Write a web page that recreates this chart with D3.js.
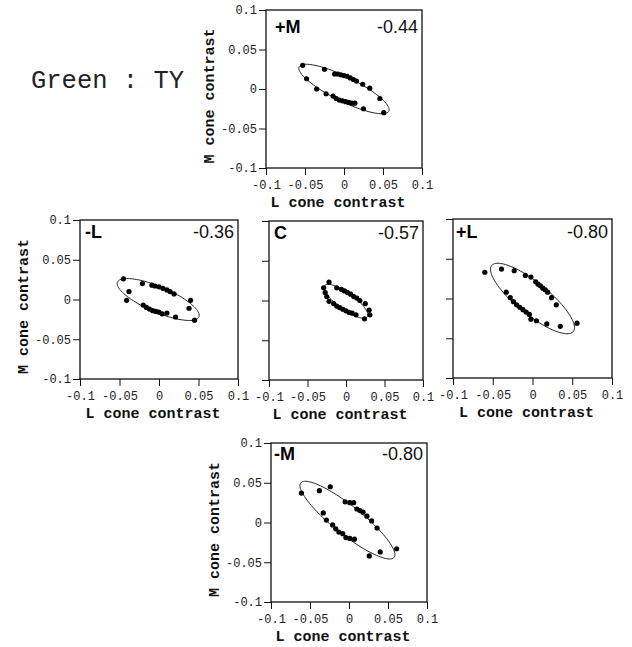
<!DOCTYPE html>
<html>
<head>
<meta charset="utf-8">
<script src="https://cdn.jsdelivr.net/npm/d3@7"></script>
<style>
  html, body { margin: 0; padding: 0; background: #fff; }
  svg { display: block; }
  .tick text { font-family: "Liberation Mono", "DejaVu Sans Mono", monospace; font-size: 12px; fill: #222; }
  .tick line { stroke: #111; stroke-width: 1; }
  .axis-title { font-family: "Liberation Mono", monospace; font-size: 15px; font-weight: bold; fill: #111; }
  .cond { font-family: "Liberation Sans", Arial, sans-serif; font-size: 18px; font-weight: bold; fill: #000; }
  .corr { font-family: "Liberation Sans", Arial, sans-serif; font-size: 18px; fill: #111; }
</style>
</head>
<body>
<svg id="chart" width="632" height="647"></svg>
<script>
// Observer / condition heading
const heading = "Green : TY";

// Adaptation conditions and the correlation reported for each
const conditions = ["+M", "-L", "C", "+L", "-M"];
const correlations = ["-0.44", "-0.36", "-0.57", "-0.80", "-0.80"];

// Shared axis ticks
const tickValues = [-0.1, -0.05, 0, 0.05, 0.1];
const tickLabels = ["-0.1", "-0.05", "0", "0.05", "0.1"];

// Threshold points (L cone contrast, M cone contrast) per condition
const plusM_L = [-0.053, -0.025, -0.048, -0.035, -0.023, -0.014, -0.010, -0.006, -0.002, 0.002, 0.006, 0.010, 0.014, 0.025, 0.051, 0.046, 0.033, 0.024, 0.016, 0.012, 0.008, 0.004, 0.000, -0.004, -0.008, -0.012];
const plusM_M = [0.030, 0.025, 0.013, 0.000, -0.006, -0.009, -0.012, -0.014, -0.015, -0.016, -0.017, -0.018, -0.018, -0.025, -0.030, -0.012, 0.001, 0.006, 0.010, 0.012, 0.014, 0.016, 0.017, 0.018, 0.019, 0.019];

const minusL_L = [-0.045, -0.038, -0.041, -0.021, -0.009, -0.005, 0.000, 0.005, 0.010, 0.014, 0.019, 0.040, 0.038, 0.045, -0.020, -0.016, -0.012, -0.008, -0.004, 0.000, 0.004, 0.010, 0.021];
const minusL_M = [0.026, 0.010, -0.001, 0.020, 0.018, 0.017, 0.016, 0.014, 0.012, 0.010, 0.007, -0.001, -0.011, -0.026, -0.007, -0.010, -0.012, -0.014, -0.015, -0.016, -0.018, -0.017, -0.022];

const center_L = [-0.022, -0.029, -0.027, -0.025, -0.022, -0.016, -0.012, -0.008, -0.004, 0.000, 0.004, 0.008, 0.013, 0.024, 0.031, 0.030, 0.025, 0.018, 0.014, 0.010, 0.006, 0.002, -0.002, -0.006, -0.012];
const center_M = [0.023, 0.016, 0.010, 0.005, -0.001, -0.004, -0.007, -0.009, -0.011, -0.013, -0.015, -0.016, -0.018, -0.023, -0.018, -0.012, -0.004, 0.000, 0.003, 0.005, 0.008, 0.010, 0.012, 0.014, 0.016];

const plusL_L = [-0.060, -0.039, -0.023, -0.009, -0.002, 0.004, 0.007, 0.010, 0.013, 0.016, 0.019, 0.024, 0.030, -0.033, -0.028, -0.024, -0.020, -0.016, -0.012, -0.008, -0.004, -0.002, 0.005, 0.018, 0.035, 0.056];
const plusL_M = [0.033, 0.037, 0.035, 0.029, 0.027, 0.021, 0.018, 0.016, 0.013, 0.011, 0.008, 0.001, -0.008, 0.008, 0.001, -0.004, -0.008, -0.011, -0.014, -0.017, -0.020, -0.026, -0.028, -0.032, -0.035, -0.031];

const minusM_L = [-0.061, -0.038, -0.024, -0.005, 0.001, 0.006, 0.010, 0.014, 0.018, 0.023, 0.029, 0.036, -0.033, -0.029, -0.021, -0.017, -0.013, -0.008, -0.004, 0.001, 0.007, 0.026, 0.040, 0.061];
const minusM_M = [0.037, 0.040, 0.045, 0.026, 0.025, 0.025, 0.017, 0.015, 0.013, 0.008, 0.002, -0.007, 0.012, 0.003, -0.003, -0.008, -0.012, -0.014, -0.019, -0.020, -0.021, -0.042, -0.037, -0.033];

// Fitted ellipses: [centre L, centre M, semi-major, semi-minor, tilt in degrees]
const plusM_fit  = [0.000, 0.000, 0.064, 0.0155, -26];
const minusL_fit = [-0.001, 0.000, 0.056, 0.016, -23];
const center_fit = [0.000, -0.001, 0.034, 0.0105, -35];
const plusL_fit  = [0.000, 0.000, 0.066, 0.020, -39];
const minusM_fit = [-0.002, 0.003, 0.076, 0.018, -38];

const seriesL = [plusM_L, minusL_L, center_L, plusL_L, minusM_L];
const seriesM = [plusM_M, minusL_M, center_M, plusL_M, minusM_M];
const fits = [plusM_fit, minusL_fit, center_fit, plusL_fit, minusM_fit];

// Panel frames (plot-area boxes, in pixels) and which ones carry y labels
const frames = [
  { x: 266, y: 10,  w: 156, h: 158, yText: true,  labelDx: 9, labelDy: 23 },
  { x: 80,  y: 220, w: 158, h: 159, yText: true,  labelDx: 5, labelDy: 17.5 },
  { x: 269, y: 221, w: 154, h: 159, yText: false, labelDx: 5, labelDy: 17.5 },
  { x: 453, y: 219, w: 159, h: 159, yText: false, labelDx: 3, labelDy: 19 },
  { x: 271, y: 443, w: 156, h: 159, yText: true,  labelDx: 3, labelDy: 17 }
];

const svg = d3.select("#chart");

svg.append("text")
  .attr("x", 31)
  .attr("y", 88)
  .style("font-family", "'Liberation Mono', monospace")
  .style("font-size", "25.5px")
  .style("fill", "#222")
  .text(heading);

frames.forEach((f, i) => {
  const x = d3.scaleLinear().domain([-0.1, 0.1]).range([f.x, f.x + f.w]);
  const y = d3.scaleLinear().domain([-0.1, 0.1]).range([f.y + f.h, f.y]);
  const g = svg.append("g");

  // x axis
  const xAxis = d3.axisBottom(x)
    .tickValues(tickValues)
    .tickFormat((d, k) => tickLabels[k])
    .tickSize(7).tickSizeOuter(0).tickPadding(5);
  const gx = g.append("g").attr("transform", `translate(0,${f.y + f.h})`).call(xAxis);
  gx.select(".domain").remove();

  // y axis
  const yAxis = d3.axisLeft(y)
    .tickValues(tickValues)
    .tickFormat((d, k) => f.yText ? tickLabels[k] : "")
    .tickSize(7).tickSizeOuter(0).tickPadding(2);
  const gy = g.append("g").attr("transform", `translate(${f.x},0)`).call(yAxis);
  gy.select(".domain").remove();

  // frame
  g.append("rect")
    .attr("x", f.x).attr("y", f.y)
    .attr("width", f.w).attr("height", f.h)
    .attr("fill", "none")
    .attr("stroke", "#111")
    .attr("stroke-width", 1.3);

  // axis titles
  g.append("text")
    .attr("class", "axis-title")
    .attr("x", f.x + f.w / 2 - 6)
    .attr("y", f.y + f.h + 39)
    .attr("text-anchor", "middle")
    .text("L cone contrast");

  if (f.yText) {
    g.append("text")
      .attr("class", "axis-title")
      .attr("transform", `translate(${f.x - 52},${f.y + f.h / 2 + 7}) rotate(-90)`)
      .attr("text-anchor", "middle")
      .text("M cone contrast");
  }

  // fitted ellipse
  const [cx, cy, a, b, deg] = fits[i];
  const th = deg * Math.PI / 180;
  const ring = d3.range(0, 361, 3).map(t => {
    const r = t * Math.PI / 180;
    return [
      cx + a * Math.cos(th) * Math.cos(r) - b * Math.sin(th) * Math.sin(r),
      cy + a * Math.sin(th) * Math.cos(r) + b * Math.cos(th) * Math.sin(r)
    ];
  });
  g.append("path")
    .attr("d", d3.line().x(p => x(p[0])).y(p => y(p[1])).curve(d3.curveLinearClosed)(ring))
    .attr("fill", "none")
    .attr("stroke", "#222")
    .attr("stroke-width", 1);

  // threshold points
  const pts = seriesL[i].map((v, k) => [v, seriesM[i][k]]);
  g.selectAll("circle.pt").data(pts).join("circle")
    .attr("class", "pt")
    .attr("cx", p => x(p[0]))
    .attr("cy", p => y(p[1]))
    .attr("r", 2.6)
    .attr("fill", "#000");

  // condition label and correlation
  g.append("text")
    .attr("class", "cond")
    .attr("x", f.x + f.labelDx)
    .attr("y", f.y + f.labelDy)
    .text(conditions[i]);
  g.append("text")
    .attr("class", "corr")
    .attr("x", f.x + f.w - 4)
    .attr("y", f.y + f.labelDy)
    .attr("text-anchor", "end")
    .text(correlations[i]);
});
</script>
</body>
</html>
